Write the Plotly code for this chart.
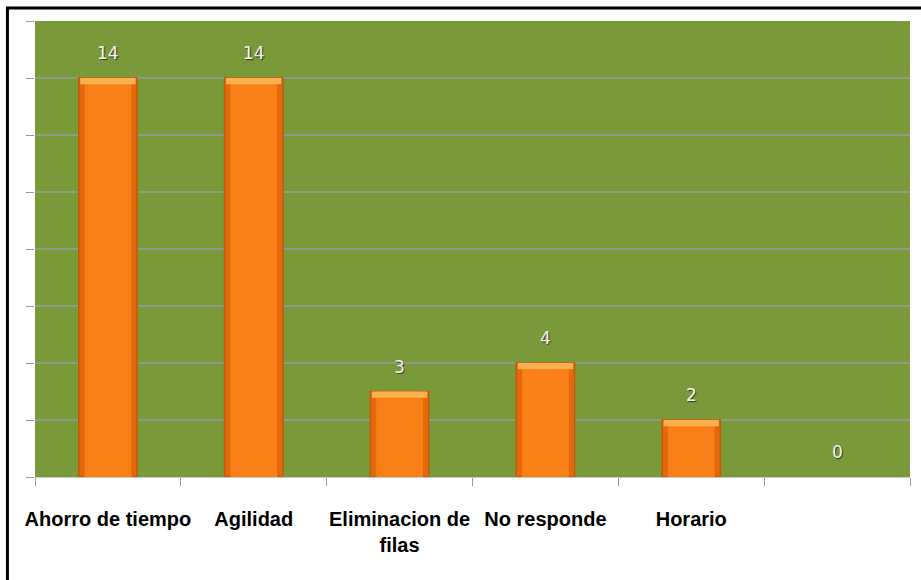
import plotly.graph_objects as go

categories = ["Ahorro de tiempo", "Agilidad", "Eliminacion de<br>filas", "No responde", "Horario", " "]
values = [14, 14, 3, 4, 2, 0]
value_labels = ["14", "14", "3", "4", "2", "0"]
y_ticks = [0, 2, 4, 6, 8, 10, 12, 14, 16]

cap = 0.22
fig = go.Figure()
fig.add_trace(go.Bar(
    x=categories, y=values, width=0.40,
    marker=dict(color="#E4690C",
                line=dict(color="#C25A0C", width=[1.5 if v > 0 else 0 for v in values])),
    hoverinfo="skip", showlegend=False,
))
fig.add_trace(go.Bar(
    x=categories, y=values, width=0.32,
    marker=dict(color="#F98016", line=dict(width=0)),
    hoverinfo="skip", showlegend=False,
))
fig.add_trace(go.Bar(
    x=categories,
    y=[cap if v > 0 else 0 for v in values],
    base=[v - cap if v > 0 else 0 for v in values],
    width=0.38,
    marker=dict(color="#FBB04E", line=dict(width=0)),
    hoverinfo="skip", showlegend=False,
))

for c, v, t in zip(categories, values, value_labels):
    fig.add_annotation(
        x=c, y=v, text=t, showarrow=False, yanchor="middle", yshift=25,
        font=dict(family="DejaVu Sans", size=17, color="#F5F5E6",
                  shadow="1px 1px 1px #333333"),
    )

fig.add_shape(type="rect", xref="paper", yref="paper",
              x0=-0.0315, x1=1.2, y0=-0.5, y1=1.0285,
              line=dict(color="black", width=3), fillcolor="rgba(0,0,0,0)", layer="above")

fig.update_layout(
    width=921, height=580,
    margin=dict(l=35, r=11, t=21, b=103, autoexpand=False),
    paper_bgcolor="white", plot_bgcolor="#7A9A3A",
    barmode="overlay", bargap=0.6,
    xaxis=dict(
        type="category", tickson="boundaries", ticks="outside", ticklen=8,
        tickcolor="#999999", showgrid=False, showline=True, linecolor="#C8C8C8",
        linewidth=1, ticklabelstandoff=24, tickangle=0, automargin=False,
        tickfont=dict(family="Liberation Sans, Arial", size=20, color="black", weight="bold"),
        fixedrange=True,
    ),
    yaxis=dict(
        range=[0, 16], tickvals=y_ticks, showticklabels=False, ticks="outside",
        ticklen=8, tickcolor="#999999", showgrid=True, gridcolor="#8E9C86",
        gridwidth=2, zeroline=False, showline=False, fixedrange=True, automargin=False,
    ),
)

fig.write_html("out.html")
